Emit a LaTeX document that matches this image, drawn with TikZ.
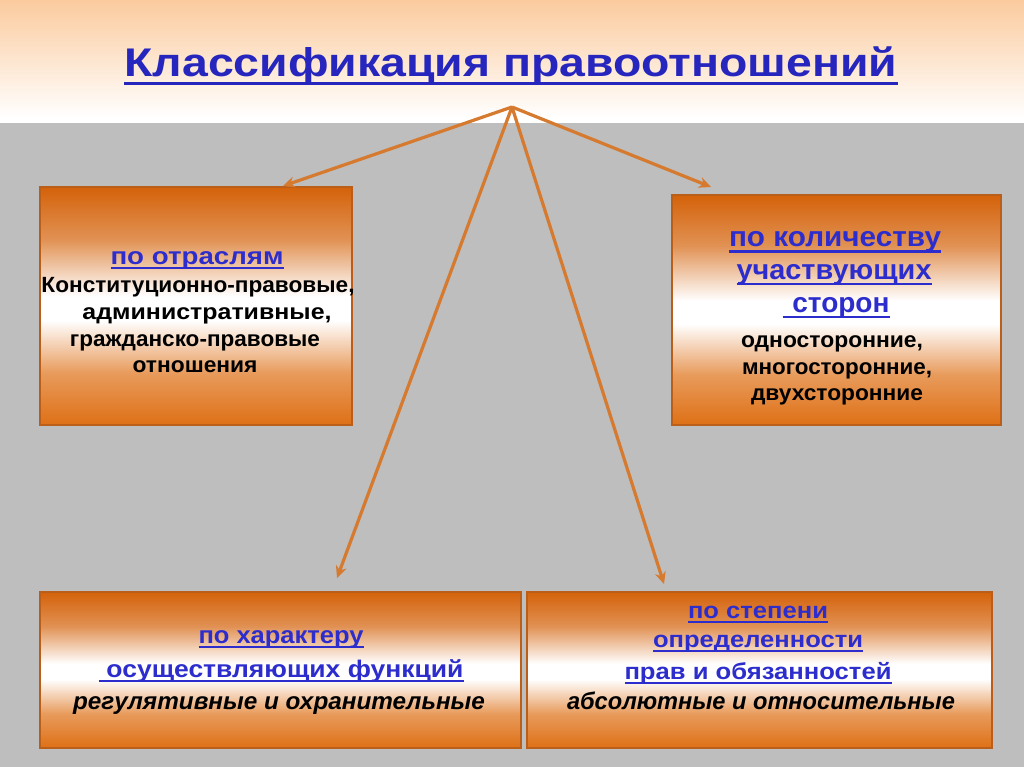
\documentclass[tikz,border=0pt]{standalone}
\usepackage{fontspec}
\setmainfont{Liberation Sans}
\usetikzlibrary{arrows.meta}
\definecolor{peach}{RGB}{251,203,158}
\definecolor{bggray}{RGB}{190,190,190}
\definecolor{boxtop}{RGB}{212,98,10}
\definecolor{boxbot}{RGB}{222,112,22}
\definecolor{boxedge}{RGB}{185,95,25}
\definecolor{arrowor}{RGB}{214,122,48}
\definecolor{ttlblue}{RGB}{38,38,190}
\definecolor{hdblue}{RGB}{45,45,205}
\pgfdeclareverticalshading{boxshade}{100bp}{%
  color(0bp)=(boxbot); color(25bp)=(boxbot); color(36bp)=(boxbot!70!white);
  color(47bp)=(white); color(52bp)=(white); color(64bp)=(boxtop!70!white);
  color(75bp)=(boxtop); color(100bp)=(boxtop)}
\newcommand\ulx[1]{\setbox0\hbox{#1}\rlap{\rule[-0.2em]{\wd0}{0.075em}}\box0}
\newcommand\fw[2]{\resizebox{#1pt}{\height}{#2}}
\tikzset{
  box/.style={draw=boxedge, line width=1.5pt, shading=boxshade, inner sep=0},
  hd/.style={anchor=base, inner sep=0, text=hdblue, font=\bfseries\fontsize{#1}{#1}\selectfont},
  body/.style={anchor=base, inner sep=0, text=black, font=\bfseries\fontsize{#1}{#1}\selectfont},
  itbody/.style={anchor=base, inner sep=0, text=black, font=\bfseries\itshape\fontsize{#1}{#1}\selectfont},
  arr/.style={draw=arrowor, line width=3.2pt, -{Stealth[length=12pt,width=11pt]}}
}
\begin{document}
\begin{tikzpicture}[x=1pt,y=-1pt]
\useasboundingbox (0,0) rectangle (1024,767);
\fill[bggray] (0,123) rectangle (1024,767);
\shade[top color=peach, bottom color=white] (0,0) rectangle (1024,118);
\fill[white] (0,118) rectangle (1024,123);
% title
\node[anchor=base, inner sep=0, text=ttlblue, font=\bfseries\fontsize{40}{40}\selectfont] (title) at (511,77) {\fw{773}{\ulx{Классификация правоотношений}}};
% boxes
\node[box, minimum width=312pt, minimum height=238pt] (lbox) at (196,306) {};
\node[box, minimum width=329pt, minimum height=230pt] (rbox) at (836.5,310) {};
\node[box, minimum width=481pt, minimum height=156pt] (blbox) at (280.5,670) {};
\node[box, minimum width=465pt, minimum height=156pt] (brbox) at (759.5,670) {};
% arrows
\coordinate (apex) at (512,107);
\coordinate (tipL) at (283,186);
\coordinate (tipR) at (711,187);
\coordinate (tipDL) at (337,578);
\coordinate (tipDR) at (664,584);
\draw[arr] (apex) -- (tipL);
\draw[arr] (apex) -- (tipR);
\draw[arr] (apex) -- (tipDL);
\draw[arr] (apex) -- (tipDR);
% left box text
\node[hd=24] (l1) at (197,264) {\fw{173}{\ulx{по отраслям}}};
\node[body=22] (l2) at (198,292) {\fw{313}{Конституционно-правовые,}};
\node[body=22] (l3) at (207,319) {\fw{249}{административные,}};
\node[body=22] (l4) at (195,346) {\fw{250}{гражданско-правовые}};
\node[body=22] (l5) at (195,372) {\fw{125}{отношения}};
% right box text
\node[hd=28] (r1) at (835,247) {\fw{212}{\ulx{по количеству}}};
\node[hd=28] (r2) at (834,279) {\fw{195}{\ulx{участвующих}}};
\node[hd=28] (r3) at (836,312) {\fw{107}{\ulx{\hspace{0.35em}сторон}}};
\node[body=22] (r4) at (832,347) {\fw{182}{односторонние,}};
\node[body=22] (r5) at (837,374) {\fw{190}{многосторонние,}};
\node[body=22] (r6) at (837,400) {\fw{172}{двухсторонние}};
% bottom left text
\node[hd=24] (b1) at (281,643) {\fw{165}{\ulx{по характеру}}};
\node[hd=24] (b2) at (281,677) {\fw{365}{\ulx{\hspace{0.3em}осуществляющих функций}}};
\node[itbody=24] (b3) at (279,709) {\fw{412}{регулятивные и охранительные}};
% bottom right text
\node[hd=23] (c1) at (758,618) {\fw{140}{\ulx{по степени}}};
\node[hd=23] (c2) at (758,647) {\fw{210}{\ulx{определенности}}};
\node[hd=23] (c3) at (758,679) {\fw{267}{\ulx{прав и обязанностей}}};
\node[itbody=24] (c4) at (761,709) {\fw{388}{абсолютные и относительные}};
\end{tikzpicture}
\end{document}
